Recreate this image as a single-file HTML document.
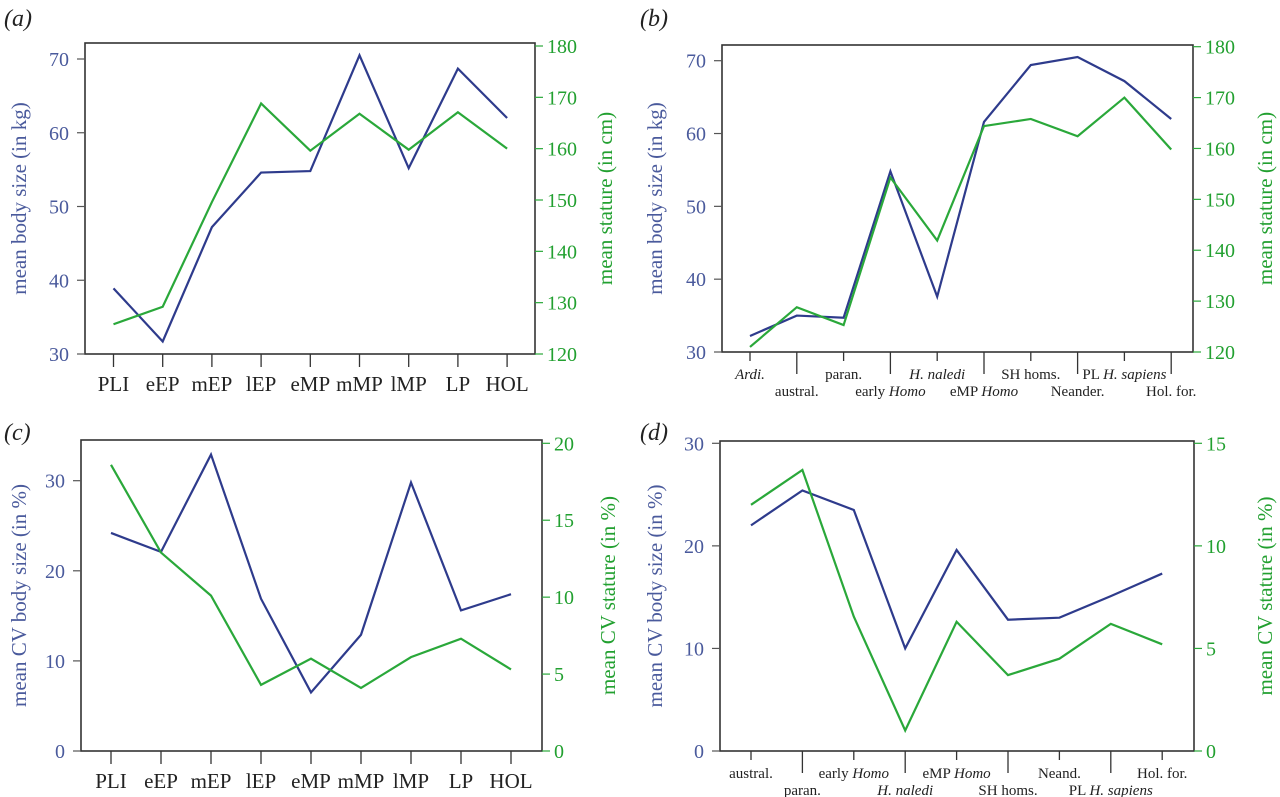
<!DOCTYPE html>
<html><head><meta charset="utf-8">
<style>
html,body{margin:0;padding:0;background:#fff;}
svg{display:block;font-family:"Liberation Serif",serif;}
</style></head>
<body>
<svg id="fig" width="1280" height="797" viewBox="0 0 1280 797">
<text x="4" y="26" font-size="24" font-style="italic" fill="#222">(a)</text>
<text x="640" y="26" font-size="24" font-style="italic" fill="#222">(b)</text>
<text x="4" y="440" font-size="24" font-style="italic" fill="#222">(c)</text>
<text x="640" y="440" font-size="24" font-style="italic" fill="#222">(d)</text>
</svg>
<script>
const periodCats = ["PLI","eEP","mEP","lEP","eMP","mMP","lMP","LP","HOL"];
const taxaCatsB = ["<i>Ardi.</i>","austral.","paran.","early <i>Homo</i>","<i>H. naledi</i>","eMP <i>Homo</i>","SH homs.","Neander.","PL <i>H. sapiens</i>","Hol. for."];
const taxaCatsD = ["austral.","paran.","early <i>Homo</i>","<i>H. naledi</i>","eMP <i>Homo</i>","SH homs.","Neand.","PL <i>H. sapiens</i>","Hol. for."];

const bodyA = [38.9,31.7,47.2,54.6,54.8,70.5,55.2,68.7,62.0];
const statureA = [125.8,129.2,149.6,168.8,159.6,166.8,159.8,167.1,160.0];
const bodyB = [32.2,35.0,34.7,54.8,37.6,61.6,69.4,70.5,67.2,62.0];
const statureB = [121.0,128.8,125.3,154.3,141.9,164.4,165.8,162.4,170.0,159.8];
const cvBodyC = [24.2,22.1,32.9,16.9,6.5,12.9,29.8,15.6,17.4];
const cvStatureC = [18.6,12.9,10.1,4.3,6.0,4.1,6.1,7.3,5.3];
const cvBodyD = [22.0,25.4,23.5,10.0,19.6,12.8,13.0,15.1,17.3];
const cvStatureD = [12.0,13.7,6.55,1.0,6.3,3.7,4.5,6.2,5.2];

const ticksKg = [30,40,50,60,70];
const ticksCm = [120,130,140,150,160,170,180];
const ticksCvC = [0,10,20,30];
const ticksCvStC = [0,5,10,15,20];
const ticksCvD = [0,10,20,30];
const ticksCvStD = [0,5,10,15];

const NS="http://www.w3.org/2000/svg";
const svg=document.getElementById('fig');
const BLUE="#2e3b8c", BLUET="#4a5a9c", GREEN="#2aa83a", GREENT="#22a030";
function mk(tag,attrs,parent){const e=document.createElementNS(NS,tag);for(const k in attrs)e.setAttribute(k,attrs[k]);(parent||svg).appendChild(e);return e;}

function panel(o){
  const g=mk('g',{});
  
  
  const yL=v=>o.bottom-(v-o.lmin)/(o.lmax-o.lmin)*(o.bottom-o.lTopY);
  const yR=v=>o.bottom-(v-o.rmin)/(o.rmax-o.rmin)*(o.bottom-o.rTopY);
  const xC=i=>o.x0+i*o.dx;
  const box=mk('rect',{x:o.left,y:o.top,width:o.right-o.left,height:o.bottom-o.top,fill:'none',stroke:'#333','stroke-width':1.6},g);
  
  
  o.lt.forEach(v=>{
    mk('line',{x1:o.left-8,x2:o.left,y1:yL(v),y2:yL(v),stroke:'#555','stroke-width':1.2},g);
    const t=mk('text',{x:o.left-16,y:yL(v)+7,'text-anchor':'end','font-size':20,fill:BLUET},g);
    t.textContent=v;
    
    
  });
  o.rt.forEach(v=>{
    mk('line',{x1:o.right,x2:o.right+8,y1:yR(v),y2:yR(v),stroke:GREEN,'stroke-width':1.2},g);
    const t=mk('text',{x:o.right+12,y:yR(v)+7,'font-size':20,fill:GREENT},g);
    t.textContent=v;
    
    
  });
  o.cats.forEach((c,i)=>{
    const x=xC(i);
    if(o.alt){
      const low=i%2===1;
      mk('line',{x1:x,x2:x,y1:o.bottom,y2:o.bottom+(low?22:9),stroke:'#333','stroke-width':1.3},g);
      const t=mk('text',{x:x,y:o.bottom+(low?44:27),'text-anchor':'middle','font-size':15,fill:'#222'},g);
      t.innerHTML=c.replace(/<i>/g,'<tspan font-style="italic">').replace(/<\/i>/g,'</tspan>');
      
      
    }else{
      mk('line',{x1:x,x2:x,y1:o.bottom,y2:o.bottom+13,stroke:'#333','stroke-width':1.3},g);
      const t=mk('text',{x:x,y:o.bottom+37,'text-anchor':'middle','font-size':21,fill:'#222'},g);
      t.textContent=c;
      
      
    }
  });
  const pl=mk('polyline',{points:o.blue.map((v,i)=>xC(i)+','+yL(v)).join(' '),fill:'none',stroke:BLUE,'stroke-width':2.2,'stroke-linejoin':'miter'},g);
  
  
  const pg=mk('polyline',{points:o.green.map((v,i)=>xC(i)+','+yR(v)).join(' '),fill:'none',stroke:GREEN,'stroke-width':2.2,'stroke-linejoin':'miter'},g);
  
  
  const cy=(o.top+o.bottom)/2;
  const tl=mk('text',{x:o.ltx,y:cy,'text-anchor':'middle','font-size':21,fill:BLUET,transform:`rotate(-90 ${o.ltx} ${cy})`},g);
  tl.textContent=o.ltitle;
  
  
  const tr=mk('text',{x:o.rtx,y:cy,'text-anchor':'middle','font-size':21,fill:GREENT,transform:`rotate(-90 ${o.rtx} ${cy})`},g);
  tr.textContent=o.rtitle;
  
  
}

panel({name:'panel-a',left:85,right:535,top:43,bottom:354,lmin:30,lmax:70,lTopY:59,rmin:120,rmax:180,rTopY:46,
  x0:113.5,dx:49.2,cats:periodCats,alt:false,blue:bodyA,green:statureA,lt:ticksKg,rt:ticksCm,
  ltitle:'mean body size (in kg)',rtitle:'mean stature (in cm)',ltx:26,rtx:612});
panel({name:'panel-b',left:722,right:1193,top:45,bottom:352,lmin:30,lmax:70,lTopY:60.7,rmin:120,rmax:180,rTopY:46.7,
  x0:750,dx:46.8,cats:taxaCatsB,alt:true,blue:bodyB,green:statureB,lt:ticksKg,rt:ticksCm,
  ltitle:'mean body size (in kg)',rtitle:'mean stature (in cm)',ltx:662,rtx:1272});
panel({name:'panel-c',left:81,right:542,top:440,bottom:751,lmin:0,lmax:30,lTopY:480.7,rmin:0,rmax:20,rTopY:443.3,
  x0:111,dx:50,cats:periodCats,alt:false,blue:cvBodyC,green:cvStatureC,lt:ticksCvC,rt:ticksCvStC,
  ltitle:'mean CV body size (in %)',rtitle:'mean CV stature (in %)',ltx:26,rtx:615});
panel({name:'panel-d',left:720,right:1194,top:441,bottom:751,lmin:0,lmax:30,lTopY:443.3,rmin:0,rmax:15,rTopY:443.3,
  x0:751,dx:51.4,cats:taxaCatsD,alt:true,blue:cvBodyD,green:cvStatureD,lt:ticksCvD,rt:ticksCvStD,
  ltitle:'mean CV body size (in %)',rtitle:'mean CV stature (in %)',ltx:662,rtx:1272});
</script>
</body></html>
